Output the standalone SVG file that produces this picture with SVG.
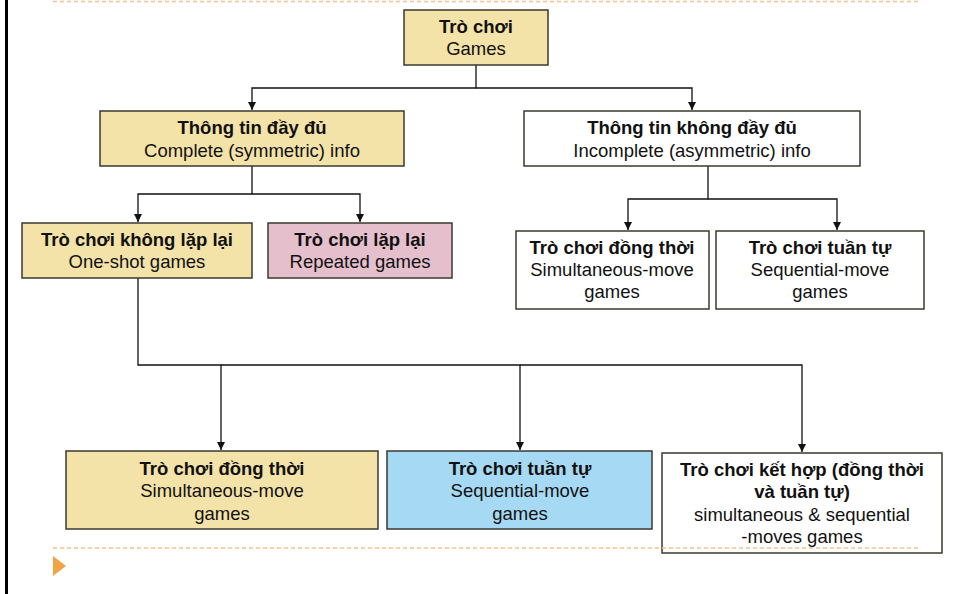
<svg xmlns="http://www.w3.org/2000/svg" width="954" height="594" viewBox="0 0 954 594">
<style>
.box{stroke:#3a3a30;stroke-width:1.5}
.y{fill:#F4E3A8}.p{fill:#E6BFCD}.b{fill:#A6D9F3}.w{fill:#fff}
text{font-family:"Liberation Sans",Arial,sans-serif;font-size:18.5px;fill:#111;text-anchor:middle}
.t{font-weight:bold}
.c{fill:none;stroke:#111;stroke-width:1.3}
.d{stroke:#F8C08C;stroke-width:1.6;stroke-dasharray:4 3;fill:none}
</style>
<defs>
<marker id="ah" viewBox="0 0 10 10" refX="10" refY="5" markerWidth="8" markerHeight="8" markerUnits="userSpaceOnUse" orient="auto">
<path d="M0,0 L10,5 L0,10 Z" fill="#111"/>
</marker>
</defs>
<rect width="954" height="594" fill="#fff"/>
<line x1="6.5" y1="0" x2="6.5" y2="594" stroke="#000" stroke-width="3"/>
<line class="d" x1="53" y1="1.5" x2="918" y2="1.5"/>
<polygon points="53,556 66,566 53,576" fill="#F2A444"/>

<g id="connectors">
<polyline class="c" points="476,65 476,88 252,88 252,110" marker-end="url(#ah)"/>
<polyline class="c" points="476,88 692,88 692,110" marker-end="url(#ah)"/>
<polyline class="c" points="252,166 252,194 138,194 138,222" marker-end="url(#ah)"/>
<polyline class="c" points="252,194 360,194 360,222" marker-end="url(#ah)"/>
<polyline class="c" points="708,166 708,199 628,199 628,230" marker-end="url(#ah)"/>
<polyline class="c" points="708,199 837,199 837,230" marker-end="url(#ah)"/>
<polyline class="c" points="138,278 138,365 221,365 221,450" marker-end="url(#ah)"/>
<polyline class="c" points="221,365 520,365 520,450" marker-end="url(#ah)"/>
<polyline class="c" points="520,365 802,365 802,452" marker-end="url(#ah)"/>
</g>

<g id="games">
<rect class="box y" x="404" y="10" width="144" height="55"/>
<text class="t" x="476" y="33">Trò chơi</text>
<text x="476" y="55">Games</text>
</g>
<g id="complete">
<rect class="box y" x="100" y="111" width="304" height="55"/>
<text class="t" x="252" y="134">Thông tin đầy đủ</text>
<text x="252" y="157">Complete (symmetric) info</text>
</g>
<g id="incomplete">
<rect class="box w" x="524" y="111" width="336" height="55"/>
<text class="t" x="692" y="134">Thông tin không đầy đủ</text>
<text x="692" y="157">Incomplete (asymmetric) info</text>
</g>
<g id="oneshot">
<rect class="box y" x="22" y="223" width="230" height="55"/>
<text class="t" x="137" y="246">Trò chơi không lặp lại</text>
<text x="137" y="268">One-shot games</text>
</g>
<g id="repeated">
<rect class="box p" x="268" y="223" width="184" height="55"/>
<text class="t" x="360" y="246">Trò chơi lặp lại</text>
<text x="360" y="268">Repeated games</text>
</g>
<g id="inc-sim">
<rect class="box w" x="516" y="231" width="193" height="78"/>
<text class="t" x="612" y="254">Trò chơi đồng thời</text>
<text x="612" y="276">Simultaneous-move</text>
<text x="612" y="298">games</text>
</g>
<g id="inc-seq">
<rect class="box w" x="716" y="231" width="208" height="78"/>
<text class="t" x="820" y="254">Trò chơi tuần tự</text>
<text x="820" y="276">Sequential-move</text>
<text x="820" y="298">games</text>
</g>
<g id="com-sim">
<rect class="box y" x="66" y="451" width="312" height="78"/>
<text class="t" x="222" y="475">Trò chơi đồng thời</text>
<text x="222" y="497">Simultaneous-move</text>
<text x="222" y="520">games</text>
</g>
<g id="com-seq">
<rect class="box b" x="387" y="451" width="265" height="78"/>
<text class="t" x="520" y="475">Trò chơi tuần tự</text>
<text x="520" y="497">Sequential-move</text>
<text x="520" y="520">games</text>
</g>
<g id="combined">
<rect class="box w" x="662" y="453" width="280" height="100"/>
<text class="t" x="802" y="476">Trò chơi kết hợp (đồng thời</text>
<text class="t" x="802" y="498">và tuần tự)</text>
<text x="802" y="521">simultaneous &amp; sequential</text>
<text x="802" y="543">-moves games</text>
</g>
<line class="d" x1="53" y1="548" x2="918" y2="548"/>
</svg>
